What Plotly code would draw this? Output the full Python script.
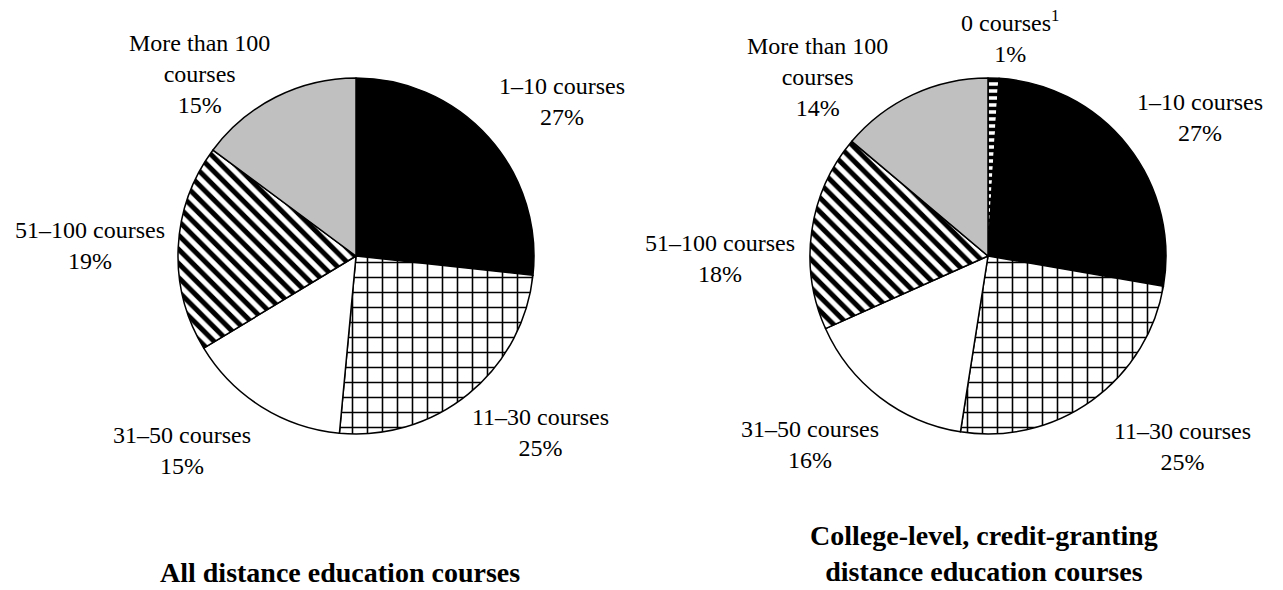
import plotly.graph_objects as go

W, H = 1283, 590

# ---- data ----
left_labels = ["1–10 courses", "11–30 courses", "31–50 courses", "51–100 courses", "More than 100<br>courses"]
left_values = [27, 25, 15, 19, 15]

right_labels = ["0 courses<sup>1</sup>", "1–10 courses", "11–30 courses", "31–50 courses", "51–100 courses", "More than 100<br>courses"]
right_values = [1, 27, 25, 16, 18, 14]

left_title = "All distance education courses"
right_title = "College-level, credit-granting<br>distance education courses"

# ---- styles per category ----
style = {
    "0": dict(color="white", shape="-", size=7, sol=0.5),
    "1–10": dict(color="black", shape="", size=8, sol=0.3),
    "11–30": dict(color="white", shape="+", size=15, sol=0.2),
    "31–50": dict(color="white", shape="", size=8, sol=0.3),
    "51–100": dict(color="white", shape="\\", size=10, sol=0.5),
    "More": dict(color="#c0c0c0", shape="", size=8, sol=0.3),
}

def key(lbl):
    return lbl.split(" ")[0]

def px_x(x):
    return x / W

def px_y(y):
    return 1 - y / H

FONT = "Liberation Serif"

def make_pie(labels, values, cx, cy, r):
    st = [style[key(l)] for l in labels]
    return go.Pie(
        labels=labels, values=values, sort=False, direction="clockwise", rotation=0,
        textinfo="none", hoverinfo="skip", showlegend=False,
        domain=dict(x=[px_x(cx - r), px_x(cx + r)], y=[px_y(cy + r), px_y(cy - r)]),
        marker=dict(
            colors=[s["color"] for s in st],
            line=dict(color="black", width=1.5),
            pattern=dict(
                shape=[s["shape"] for s in st],
                fgcolor="black",
                bgcolor=[s["color"] for s in st],
                size=[s["size"] for s in st],
                solidity=[s["sol"] for s in st],
            ),
        ),
    )

fig = go.Figure()
fig.add_trace(make_pie(left_labels, left_values, 356, 256, 178))
fig.add_trace(make_pie(right_labels, right_values, 988, 256, 178))

# label positions (pixel centers) in the same order as data
left_pos = [(562, 102), (540, 432), (182, 450), (90, 245), (199, 74)]
right_pos = [(1010, 36), (1200, 118), (1182, 446), (810, 444), (720, 258), (817, 77)]

annotations = []
for labels, values, pos in ((left_labels, left_values, left_pos), (right_labels, right_values, right_pos)):
    for l, v, (x, y) in zip(labels, values, pos):
        annotations.append(dict(
            x=px_x(x), y=px_y(y), xref="paper", yref="paper",
            text=f"{l}<br>{v}%", showarrow=False, xanchor="center", yanchor="middle",
            font=dict(family=FONT, size=24, color="black"), align="center",
        ))

annotations.append(dict(x=px_x(340), y=px_y(572), xref="paper", yref="paper", text=f"<b>{left_title}</b>",
                        showarrow=False, xanchor="center", yanchor="middle",
                        font=dict(family=FONT, size=28, color="black")))
annotations.append(dict(x=px_x(984), y=px_y(553), xref="paper", yref="paper", text=f"<b>{right_title}</b>",
                        showarrow=False, xanchor="center", yanchor="middle", align="center",
                        font=dict(family=FONT, size=28, color="black")))

fig.update_layout(
    width=W, height=H, margin=dict(l=0, r=0, t=0, b=0),
    paper_bgcolor="white", plot_bgcolor="white",
    annotations=annotations,
)

fig.write_html("out.html", config={"displayModeBar": False},
               post_script="document.body.style.margin='0';document.body.style.overflow='hidden';")
